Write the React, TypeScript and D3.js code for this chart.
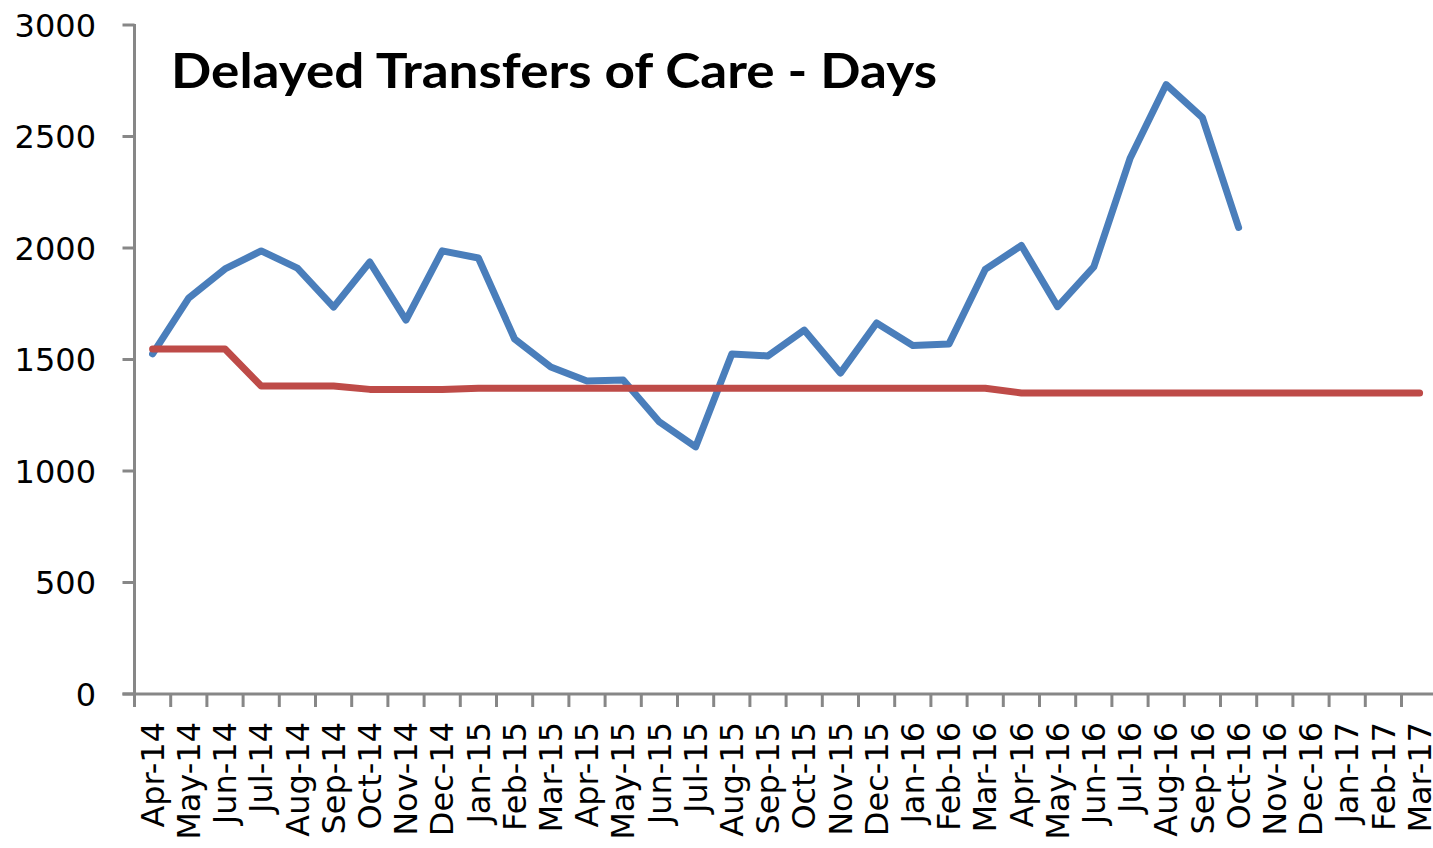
import React from "react";
import * as d3 from "d3";

const months: string[] = [
  "Apr-14", "May-14", "Jun-14", "Jul-14", "Aug-14", "Sep-14", "Oct-14", "Nov-14", "Dec-14",
  "Jan-15", "Feb-15", "Mar-15", "Apr-15", "May-15", "Jun-15", "Jul-15", "Aug-15", "Sep-15",
  "Oct-15", "Nov-15", "Dec-15", "Jan-16", "Feb-16", "Mar-16", "Apr-16", "May-16", "Jun-16",
  "Jul-16", "Aug-16", "Sep-16", "Oct-16", "Nov-16", "Dec-16", "Jan-17", "Feb-17", "Mar-17",
];

const actualDays: number[] = [
  1525, 1776, 1906, 1987, 1910, 1735, 1937, 1677, 1987, 1955, 1592, 1466,
  1404, 1408, 1220, 1108, 1525, 1516, 1632, 1439, 1664, 1563, 1570, 1904,
  2011, 1737, 1915, 2401, 2733, 2585, 2092,
];

const targetDays: number[] = [
  1547, 1547, 1547, 1381, 1381, 1381, 1366, 1366, 1366, 1371, 1371, 1371,
  1371, 1371, 1371, 1371, 1371, 1371, 1371, 1371, 1371, 1371, 1371, 1371,
  1350, 1350, 1350, 1350, 1350, 1350, 1350, 1350, 1350, 1350, 1350, 1350,
];

const yTicks: number[] = [0, 500, 1000, 1500, 2000, 2500, 3000];

const title = "Delayed Transfers of Care - Days";

const W = 1433;
const H = 848;
const left = 134.5;
const step = 36.2;
const top = 25;
const bottom = 694;

export default function App() {
  const x = d3
    .scaleBand<string>()
    .domain(months)
    .range([left, left + months.length * step])
    .padding(0);
  const y = d3.scaleLinear().domain([0, 3000]).range([bottom, top]);
  const cx = (m: string) => (x(m) as number) + x.bandwidth() / 2;

  const line = d3
    .line<number>()
    .x((_, i) => cx(months[i]))
    .y((d) => y(d));

  const axisColor = "#878787";
  const font = "'DejaVu Sans', sans-serif";

  return (
    <svg
      width={W}
      height={H}
      style={{ position: "absolute", left: 0, top: 0, background: "#fff" }}
    >
      <rect x={0} y={0} width={W} height={H} fill="#fff" />
      {/* y axis */}
      <line x1={left} x2={left} y1={top - 1} y2={bottom} stroke={axisColor} strokeWidth={3} />
      {yTicks.map((t) => (
        <g key={t}>
          <line x1={left - 12} x2={left} y1={y(t)} y2={y(t)} stroke={axisColor} strokeWidth={3} />
          <text
            x={96}
            y={y(t)}
            dy="0.36em"
            textAnchor="end"
            fontFamily={font}
            fontSize={32}
            fill="#000"
          >
            {t}
          </text>
        </g>
      ))}
      {/* x axis */}
      <line
        x1={left - 12}
        x2={left + months.length * step}
        y1={bottom}
        y2={bottom}
        stroke={axisColor}
        strokeWidth={3}
      />
      {months.map((m, i) => (
        <line
          key={"t" + m}
          x1={left + i * step}
          x2={left + i * step}
          y1={bottom}
          y2={bottom + 13}
          stroke={axisColor}
          strokeWidth={3}
        />
      ))}
      <line
        x1={left + months.length * step}
        x2={left + months.length * step}
        y1={bottom}
        y2={bottom + 13}
        stroke={axisColor}
        strokeWidth={3}
      />
      {months.map((m) => (
        <text
          key={"l" + m}
          transform={`translate(${cx(m)},${bottom + 28}) rotate(-90)`}
          dy="0.35em"
          textAnchor="end"
          fontFamily={font}
          fontSize={32}
          fill="#000"
        >
          {m}
        </text>
      ))}
      {/* series */}
      <path
        d={line(actualDays) || ""}
        fill="none"
        stroke="#4A7EBB"
        strokeWidth={7}
        strokeLinejoin="round"
        strokeLinecap="round"
      />
      <path
        d={line(targetDays) || ""}
        fill="none"
        stroke="#BE4B48"
        strokeWidth={7}
        strokeLinejoin="round"
        strokeLinecap="round"
      />
      {/* title */}
      <text
        x={171}
        y={88}
        fontFamily="Lato, 'Open Sans', sans-serif"
        fontWeight="bold"
        fontSize={47}
        textLength={766}
        lengthAdjust="spacingAndGlyphs"
        fill="#000"
      >
        {title}
      </text>
    </svg>
  );
}
